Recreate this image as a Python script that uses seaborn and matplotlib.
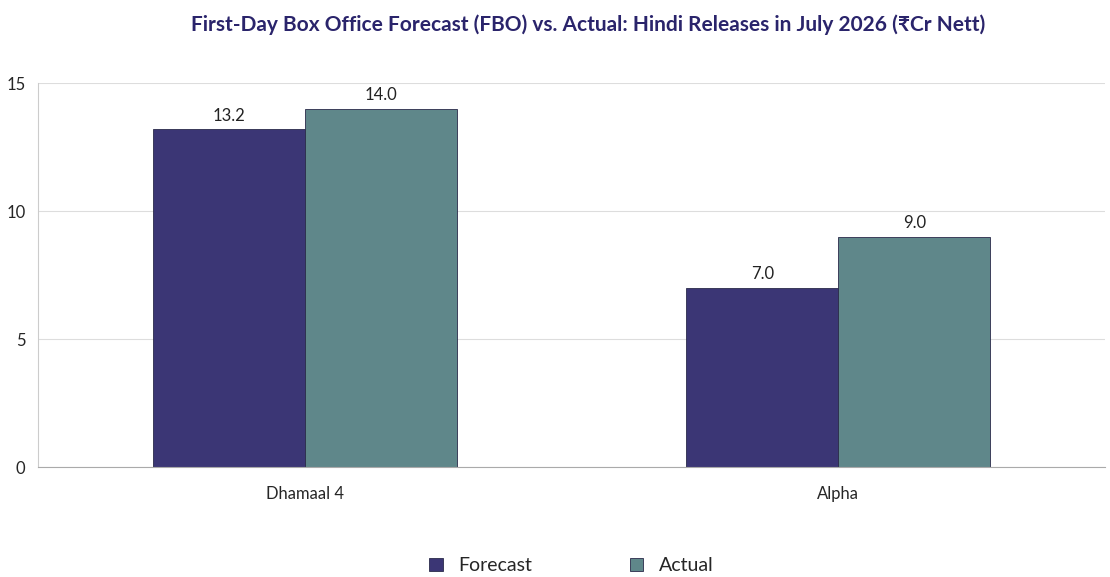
import matplotlib
matplotlib.use("Agg")
import matplotlib.pyplot as plt
import seaborn as sns
import pandas as pd

films = ["Dhamaal 4", "Alpha"]
forecast = [13.2, 7.0]
actual = [14.0, 9.0]
series = ["Forecast", "Actual"]
colors = ["#3b3675", "#5f878a"]

df = pd.DataFrame({
    "film": films * 2,
    "value": forecast + actual,
    "series": [series[0]] * 2 + [series[1]] * 2,
})

sns.set_style("white")
plt.rcParams["font.family"] = ["Lato", "Noto Sans", "DejaVu Sans"]

fig = plt.figure(figsize=(11.1, 5.77), dpi=100)
ax = fig.add_axes([38/1110, 1-467/577, (1105-38)/1110, (467-83)/577])
sns.barplot(data=df, x="film", y="value", hue="series", palette=colors, saturation=1,
            width=0.57, dodge=True, ax=ax, edgecolor="#2a2a4a", linewidth=0.6)
for c in ax.containers:
    ax.bar_label(c, fmt="%.1f", padding=4, fontsize=12, color="#222222")
ax.set_xlim(-0.5, 1.5)
ax.set_ylim(0, 15)
ax.set_yticks([0, 5, 10, 15])
ax.yaxis.grid(True, color="#dddddd", linewidth=0.8)
ax.set_axisbelow(True)
ax.set_xlabel("")
ax.set_ylabel("")
ax.set_xticks([-0.5, 0.5, 1.5], minor=True)
ax.tick_params(axis="x", which="major", length=0, labelsize=12, pad=14)
ax.tick_params(axis="x", which="minor", length=5, color="#aaaaaa")
ax.tick_params(axis="y", length=5, color="#aaaaaa", labelsize=12, pad=4)
for s in ["top", "right"]:
    ax.spines[s].set_visible(False)
ax.spines["left"].set_color("#cccccc")
ax.spines["bottom"].set_color("#aaaaaa")
ax.legend(loc="upper center", bbox_to_anchor=(0.5, -0.19), ncol=2, frameon=False,
          fontsize=14, handlelength=0.7, handleheight=0.7, columnspacing=5)
fig.text(0.53, 0.975, "First-Day Box Office Forecast (FBO) vs. Actual: Hindi Releases in July 2026 (₹Cr Nett)",
         ha="center", va="top", fontsize=15, fontweight="bold", color="#2a246b",
         family=["Lato", "Noto Sans", "DejaVu Sans"])
fig.savefig("out.png", dpi=100)
